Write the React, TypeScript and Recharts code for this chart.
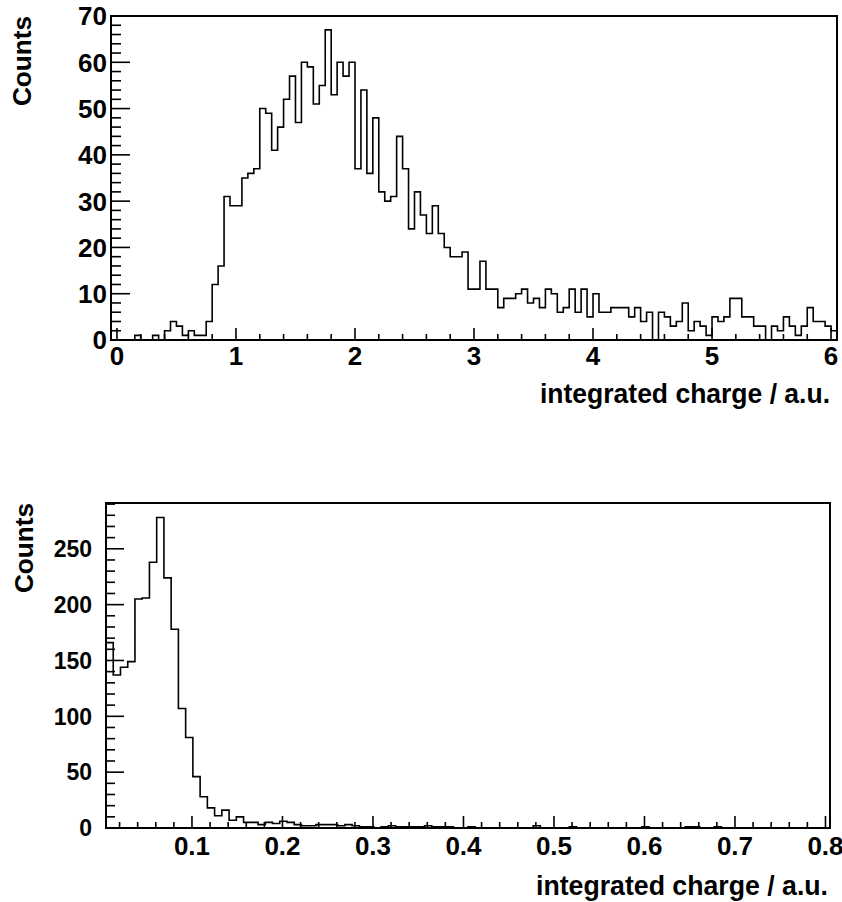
import React from 'react';
import { LineChart, Line, XAxis, YAxis, ReferenceArea, Label } from 'recharts';

// ---------- Top histogram ----------
const topXMin = -0.05;
const topXMax = 6.05;
const topBinWidth = 0.05;
const topYMax = 70;
const topCounts = [
  0, 0, 0, 0, 1, 0, 0, 1, 0, 2,
  4, 3, 1, 2, 1, 1, 4, 12, 16, 31,
  29, 29, 35, 36, 37, 50, 49, 41, 46, 52,
  57, 47, 60, 59, 51, 55, 67, 53, 60, 57,
  60, 37, 54, 36, 48, 32, 30, 31, 44, 37,
  24, 32, 27, 23, 29, 23, 20, 18, 18, 19,
  11, 11, 17, 11, 11, 7, 9, 9, 10, 11,
  8, 9, 7, 11, 10, 6, 7, 11, 6, 11,
  5, 10, 6, 6, 7, 7, 7, 5, 7, 4,
  6, 0, 6, 5, 3, 4, 8, 2, 4, 3,
  1, 5, 4, 5, 9, 9, 5, 5, 3, 3,
  0, 3, 2, 5, 3, 1, 3, 7, 4, 4,
  3, 2,
];
const topXMajor = [0, 1, 2, 3, 4, 5, 6];
const topXMinorStep = 0.2;
const topYMajor = [0, 10, 20, 30, 40, 50, 60, 70];
const topYMinorStep = 2;

// ---------- Bottom histogram ----------
const botXMin = 0.005;
const botXMax = 0.805;
const botBinWidth = 0.008;
const botYMax = 291;
const botCounts = [
  166, 137, 144, 149, 205, 206, 238, 278, 224, 178,
  107, 81, 46, 28, 18, 11, 16, 7, 10, 5,
  5, 3, 5, 4, 6, 5, 3, 2, 2, 3,
  3, 3, 2, 3, 2, 1, 1, 0, 1, 2,
  1, 1, 1, 1, 2, 1, 1, 1, 0, 0,
  1, 0, 0, 0, 0, 0, 0, 0, 0, 2,
  0, 0, 0, 0, 1, 0, 0, 0, 0, 0,
  0, 0, 0, 0, 1, 0, 0, 0, 0, 0,
  1, 1, 0, 0, 1, 0, 0, 0, 0, 0,
  0, 0, 0, 0, 0, 0, 0, 0, 0, 0,
];
const botXMajor = [0.1, 0.2, 0.3, 0.4, 0.5, 0.6, 0.7, 0.8];
const botXMinorStep = 0.02;
const botYMajor = [0, 50, 100, 150, 200, 250];
const botYMinorStep = 10;

const xTitle = 'integrated charge / a.u.';
const yTitle = 'Counts';

const FONT = '"Liberation Sans", Arial, Helvetica, sans-serif';

const r6 = (v: number) => Math.round(v * 1e6) / 1e6;

function histData(counts: number[], xmin: number, w: number, xmax: number) {
  const d = counts.map((c, i) => ({ x: r6(xmin + i * w), y: c }));
  d.push({ x: xmax, y: counts[counts.length - 1] });
  return d;
}

function tickList(lo: number, hi: number, step: number) {
  const out: number[] = [];
  const start = Math.ceil((lo - 1e-9) / step);
  const end = Math.floor((hi + 1e-9) / step);
  for (let k = start; k <= end; k++) out.push(r6(k * step));
  return out;
}

const isIn = (v: number, arr: number[]) => arr.some((a) => Math.abs(a - v) < 1e-7);

type TickCfg = {
  majors: number[];
  axisPos: number;
  majorLen: number;
  minorLen: number;
  fontSize: number;
  labelOffset: number;
  fmt: (v: number) => string;
};

const makeXTick = (cfg: TickCfg) => (props: any) => {
  const { x, payload } = props;
  const v = payload.value;
  const major = isIn(v, cfg.majors);
  const len = major ? cfg.majorLen : cfg.minorLen;
  return (
    <g>
      <line x1={x} x2={x} y1={cfg.axisPos} y2={cfg.axisPos - len} stroke="#000" strokeWidth={1.6} />
      {major && (
        <text x={x} y={cfg.axisPos + cfg.labelOffset} textAnchor="middle" fontSize={cfg.fontSize}
          fontWeight="bold" fontFamily={FONT} fill="#000">
          {cfg.fmt(v)}
        </text>
      )}
    </g>
  );
};

const makeYTick = (cfg: TickCfg) => (props: any) => {
  const { y, payload } = props;
  const v = payload.value;
  const major = isIn(v, cfg.majors);
  const len = major ? cfg.majorLen : cfg.minorLen;
  return (
    <g>
      <line x1={cfg.axisPos} x2={cfg.axisPos + len} y1={y} y2={y} stroke="#000" strokeWidth={1.6} />
      {major && (
        <text x={cfg.axisPos - cfg.labelOffset} y={y} dy="0.36em" textAnchor="end" fontSize={cfg.fontSize}
          fontWeight="bold" fontFamily={FONT} fill="#000">
          {cfg.fmt(v)}
        </text>
      )}
    </g>
  );
};

const makeXTitle = (endDx: number, dy: number, len: number, fs: number) => (props: any) => {
  const vb = props.viewBox || { x: 0, y: 0, width: 0, height: 0 };
  const xEnd = vb.x + vb.width + endDx;
  return (
    <text x={xEnd - len} y={vb.y + dy} textAnchor="start" fontSize={fs} fontWeight="bold"
      fontFamily={FONT} fill="#000" textLength={len} lengthAdjust="spacingAndGlyphs">
      {xTitle}
    </text>
  );
};

const makeYTitle = (bx: number, len: number, fs: number) => (props: any) => {
  const vb = props.viewBox || { x: 0, y: 0, width: 0, height: 0 };
  const top = vb.y;
  return (
    <text transform={`translate(${bx},${top + len}) rotate(-90)`} x={0} y={0} textAnchor="start"
      fontSize={fs} fontWeight="bold" fontFamily={FONT} fill="#000" textLength={len}
      lengthAdjust="spacingAndGlyphs">
      {yTitle}
    </text>
  );
};

function TopChart() {
  const W = 842, H = 420;
  const left = 111, right = 5, top = 16, xAxisH = 80;
  const plotBottom = H - xAxisH;
  const data = histData(topCounts, topXMin, topBinWidth, topXMax);
  const xTicks = tickList(0, 6, topXMinorStep);
  const yTicks = tickList(0, topYMax, topYMinorStep);
  return (
    <LineChart width={W} height={H} data={data} margin={{ top, right, bottom: 0, left: 0 }}>
      <XAxis type="number" dataKey="x" domain={[topXMin, topXMax]} allowDataOverflow ticks={xTicks}
        interval={0} height={xAxisH} tickLine={false} axisLine={{ stroke: '#000', strokeWidth: 2 }}
        tick={makeXTick({ majors: topXMajor, axisPos: plotBottom, majorLen: 12, minorLen: 6, fontSize: 26,
          labelOffset: 25, fmt: (v) => String(Math.round(v)) })}>
        <Label content={makeXTitle(-7, 63, 290, 27)} />
      </XAxis>
      <YAxis type="number" domain={[0, topYMax]} allowDataOverflow ticks={yTicks} interval={0} width={left}
        tickLine={false} axisLine={{ stroke: '#000', strokeWidth: 2 }}
        tick={makeYTick({ majors: topYMajor, axisPos: left, majorLen: 19, minorLen: 10, fontSize: 26,
          labelOffset: 4, fmt: (v) => String(Math.round(v)) })}>
        <Label content={makeYTitle(31, 90, 26)} />
      </YAxis>
      <Line type="stepAfter" dataKey="y" stroke="#000" strokeWidth={1.6} dot={false} isAnimationActive={false} />
      <ReferenceArea x1={topXMin} x2={topXMax} y1={0} y2={topYMax} fill="none" stroke="#000" strokeWidth={2}
        ifOverflow="visible" />
    </LineChart>
  );
}

function BottomChart() {
  const W = 842, H = 482;
  const left = 106, right = 12, top = 83, xAxisH = 74;
  const plotBottom = H - xAxisH;
  const data = histData(botCounts, botXMin, botBinWidth, botXMax);
  const xTicks = tickList(botXMin, botXMax, botXMinorStep);
  const yTicks = tickList(0, botYMax, botYMinorStep);
  return (
    <LineChart width={W} height={H} data={data} margin={{ top, right, bottom: 0, left: 0 }}>
      <XAxis type="number" dataKey="x" domain={[botXMin, botXMax]} allowDataOverflow ticks={xTicks}
        interval={0} height={xAxisH} tickLine={false} axisLine={{ stroke: '#000', strokeWidth: 2 }}
        tick={makeXTick({ majors: botXMajor, axisPos: plotBottom, majorLen: 12, minorLen: 6, fontSize: 26,
          labelOffset: 27, fmt: (v) => v.toFixed(1) })}>
        <Label content={makeXTitle(-2, 67, 292, 27)} />
      </XAxis>
      <YAxis type="number" domain={[0, botYMax]} allowDataOverflow ticks={yTicks} interval={0} width={left}
        tickLine={false} axisLine={{ stroke: '#000', strokeWidth: 2 }}
        tick={makeYTick({ majors: botYMajor, axisPos: left, majorLen: 18, minorLen: 9, fontSize: 23,
          labelOffset: 14, fmt: (v) => String(Math.round(v)) })}>
        <Label content={makeYTitle(33, 90, 26)} />
      </YAxis>
      <Line type="stepAfter" dataKey="y" stroke="#000" strokeWidth={1.6} dot={false} isAnimationActive={false} />
      <ReferenceArea x1={botXMin} x2={botXMax} y1={0} y2={botYMax} fill="none" stroke="#000" strokeWidth={2}
        ifOverflow="visible" />
    </LineChart>
  );
}

export default function App() {
  return (
    <div style={{ position: 'absolute', left: 0, top: 0, width: 842, height: 902, background: '#fff' }}>
      <div style={{ position: 'absolute', left: 0, top: 0 }}>
        <TopChart />
      </div>
      <div style={{ position: 'absolute', left: 0, top: 420 }}>
        <BottomChart />
      </div>
    </div>
  );
}
